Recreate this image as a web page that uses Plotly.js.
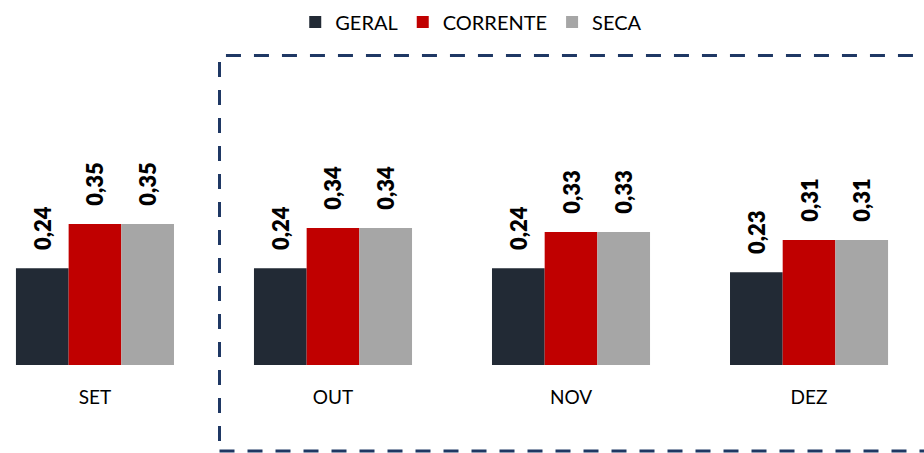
<!DOCTYPE html>
<html><head><meta charset="utf-8">
<script src="https://cdn.plot.ly/plotly-3.0.1.min.js"></script>
<style>html,body{margin:0;padding:0;background:#fff;}#chart{width:924px;height:453px;}</style>
</head><body><div id="chart"></div>
<script>
const categories = ['SET', 'OUT', 'NOV', 'DEZ'];
const geral = [0.24, 0.24, 0.24, 0.23];
const corrente = [0.35, 0.34, 0.33, 0.31];
const seca = [0.35, 0.34, 0.33, 0.31];
const seriesNames = ['GERAL', 'CORRENTE', 'SECA'];
const colors = ['#222a35', '#c00000', '#a6a6a6'];

const FONT = 'Lato, "Open Sans", sans-serif';
const PAD = '\u00a0\u00a0\u00a0';
const mk = (name, y, color) => ({
  type: 'bar', name: name, x: categories, y: y,
  marker: {color: color, line: {width: 0}},
  texttemplate: PAD + '%{y:.2f}', textposition: 'outside', textangle: -90,
  constraintext: 'none', cliponaxis: false,
  textfont: {family: FONT, size: 22, color: '#000', weight: 800}
});
const data = [
  mk(seriesNames[0], geral, colors[0]),
  mk(seriesNames[1], corrente, colors[1]),
  mk(seriesNames[2], seca, colors[2])
];
const layout = {
  width: 924, height: 453,
  margin: {l: 0, r: 0, t: 60, b: 88},
  separators: ',.',
  barmode: 'group', bargap: 0.336, bargroupgap: 0,
  paper_bgcolor: '#fff', plot_bgcolor: '#fff',
  font: {family: FONT, color: '#000'},
  showlegend: true,
  legend: {orientation: 'h', x: 0.51, xanchor: 'center', y: 1.125, yanchor: 'middle',
           font: {family: FONT, size: 20, color: '#000'}, itemwidth: 30, traceorder: 'normal'},
  xaxis: {range: [-0.399, 3.483], showgrid: false, zeroline: false, showline: false,
          ticks: '', tickfont: {family: FONT, size: 19, color: '#000'}, ticklabelstandoff: 19, fixedrange: true},
  yaxis: {range: [0, 0.757], visible: false, showgrid: false, zeroline: false, fixedrange: true},
  shapes: [{type: 'rect', xref: 'paper', yref: 'paper', x0: 219.5/924, x1: 1.02,
            y0: (365-451)/305, y1: (365-55.5)/305,
            line: {color: '#1f3864', width: 3, dash: '15px,13px'}, fillcolor: 'rgba(0,0,0,0)'}]
};
Plotly.newPlot('chart', data, layout, {displayModeBar: false, staticPlot: true});
</script></body></html>
